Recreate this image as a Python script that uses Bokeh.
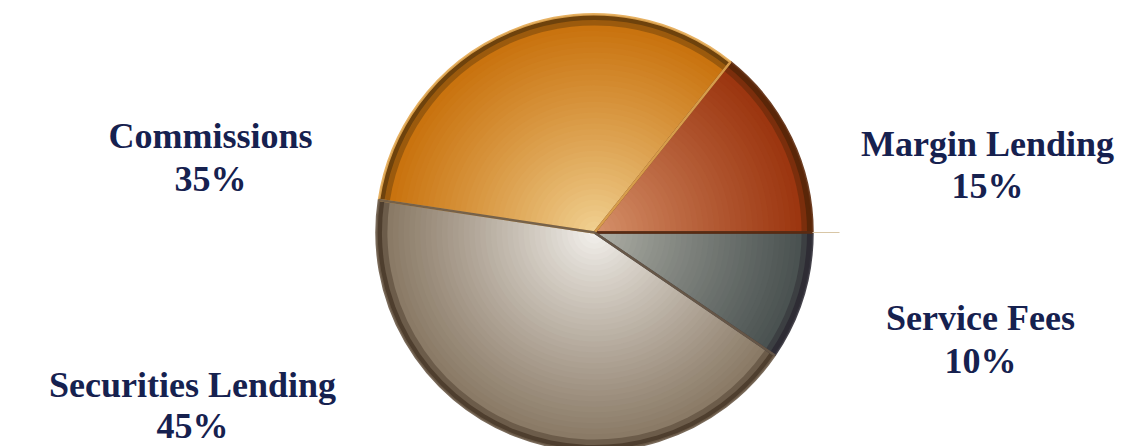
import numpy as np
from bokeh.plotting import figure
from bokeh.models import Range1d, ColumnDataSource
from bokeh.core.properties import value
from bokeh.embed import file_html
from bokeh.resources import INLINE

# ---- data ----
categories = ["Service Fees", "Margin Lending", "Commissions", "Securities Lending"]
shares = [10, 15, 35, 45]
percent_labels = [f"{s}%" for s in shares]

# ---- style ----
inner_colors = ["#b4b4aa", "#d8956e", "#f2d496", "#f6f4f0"]
outer_colors = ["#4a5251", "#9c3610", "#c9730f", "#8a7a66"]
rim_colors = ["#2e2c34", "#5a2608", "#6e420c", "#4e3e2e"]
edge_colors = ["#33313a", "#5e2a0c", "#e3a852", "#6a5a48"]
label_color = "#16214f"

W, H = 1143, 446
p = figure(width=W, height=H, output_backend="svg", toolbar_location=None,
           x_range=Range1d(0, W), y_range=Range1d(-H, 0),
           min_border=0, outline_line_color=None)
p.axis.visible = False
p.grid.visible = False
p.background_fill_color = "white"
p.border_fill_color = "white"

cx, cy, R = 594, -232, 218

total = sum(shares)
fr = np.array(shares) / total * 2 * np.pi
start0 = -fr[0]
ends = start0 + np.cumsum(fr)
starts = ends - fr


def hex2rgb(h):
    h = h.lstrip("#")
    return np.array([int(h[i:i + 2], 16) for i in (0, 2, 4)], dtype=float)


def rgb2hex(c):
    c = np.clip(np.round(c), 0, 255).astype(int)
    return "#%02x%02x%02x" % tuple(c)


# gradient bands (outer to inner), drawn as stacked wedges of the same slices
xs, ys, rs, sa, ea, cols = [], [], [], [], [], []
nb = 40
for i in range(len(shares)):
    ci, co, cr = hex2rgb(inner_colors[i]), hex2rgb(outer_colors[i]), hex2rgb(rim_colors[i])
    for k in range(nb):
        t = 1 - k / nb  # radius fraction
        r = R * t
        if t > 0.95:
            u = (t - 0.95) / 0.05
            col = co * (1 - u) + cr * u
        else:
            u = (t / 0.95) ** 0.9
            col = ci * (1 - u) + co * u
        xs.append(cx); ys.append(cy); rs.append(r)
        sa.append(starts[i]); ea.append(ends[i]); cols.append(rgb2hex(col))

src = ColumnDataSource(dict(x=xs, y=ys, r=rs, s=sa, e=ea, c=cols))
p.wedge(x="x", y="y", radius="r", start_angle="s", end_angle="e",
        fill_color="c", line_color=None, source=src)

# slice outlines
osrc = ColumnDataSource(dict(x=[cx] * len(shares), y=[cy] * len(shares), s=starts, e=ends,
                             lc=edge_colors, cat=categories))
p.wedge(x="x", y="y", radius=R, start_angle="s", end_angle="e", fill_color=None,
        line_color="lc", line_width=2.5, line_alpha=0.9, source=osrc)

# thin line to the right of pie
p.line(x=[cx + R, cx + R + 27], y=[cy, cy], line_color="#d8c6a6", line_width=1.2)

# ---- labels ----
lx = [980, 987, 210, 192]
ly_name = [-317, -143, -135, -384]
ly_pct = [-360, -185, -178, -425]
font = value("Liberation Serif")
p.text(x=lx, y=ly_name, text=categories, text_font=font, text_font_style="bold",
       text_font_size="36px", text_color=label_color, text_align="center",
       text_baseline="alphabetic")
p.text(x=lx, y=ly_pct, text=percent_labels, text_font=font, text_font_style="bold",
       text_font_size="36px", text_color=label_color, text_align="center",
       text_baseline="alphabetic")

open("out.html", "w").write(file_html(p, INLINE))
